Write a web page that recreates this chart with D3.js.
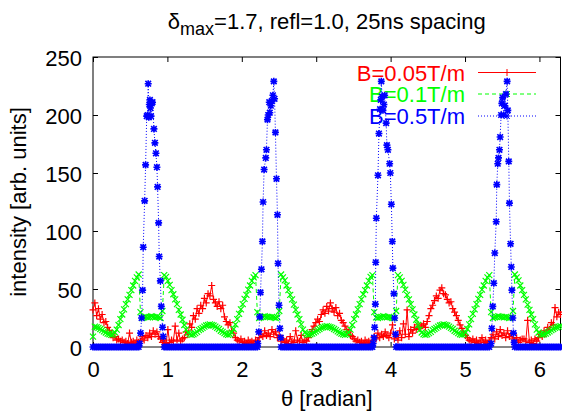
<!DOCTYPE html>
<html><head><meta charset="utf-8">
<script src="https://cdn.jsdelivr.net/npm/d3@7"></script>
<style>
body{margin:0;background:#fff}
svg{display:block}
text{font-family:"Liberation Sans",Arial,Helvetica,sans-serif}
</style>
</head><body>
<svg id="c" width="562" height="413"></svg>
<script>
// ---------- data ----------
const thetaStep = Math.PI / 128;   // sampling step of the angle grid (radian)
const gridCount = 257;             // samples from 0 to 2*pi
const xTicks = [0, 1, 2, 3, 4, 5, 6];
const yTicks = [0, 50, 100, 150, 200, 250];
const seriesNames = ["B=0.05T/m", "B=0.1T/m", "B=0.5T/m"];
const titleMain = "δ", titleSub = "max", titleRest = "=1.7, refl=1.0, 25ns spacing";
const xLabel = "θ [radian]";
const yLabel = "intensity [arb. units]";

const redVals = [
 32,38,27,33,24,28,21,22,17,14,
 12,8,9,6,7,5,6,4,5,3,
 12,4,5,3,6,4,5,9,6,10,
 8,12,9,14,11,13,9,7,4,6,
 3,15,4,6,5,18,6,12,5,7,
 8,13,11,20,17,27,24,33,29,36,
 33,42,38,46,44,53,41,38,35,39,
 33,36,26,22,19,21,14,12,8,6,
 5,7,4,5,3,6,4,5,3,6,
 5,8,11,9,14,10,12,9,15,11,
 13,8,10,5,7,4,6,3,9,5,
 4,14,6,5,10,4,6,5,8,11,
 15,18,21,24,22,28,32,29,35,31,
 38,33,30,34,27,29,23,21,18,15,
 13,10,9,7,5,6,4,5,3,6,
 4,5,3,6,9,7,12,8,11,9,
 13,10,8,12,19,7,10,6,14,8,
 20,11,32,9,15,12,17,15,19,16,
 18,20,17,22,27,33,36,40,44,42,
 49,51,46,45,41,38,39,33,30,27,
 23,19,16,12,10,8,6,5,7,4,
 6,3,5,8,4,6,3,5,8,11,
 7,13,9,15,10,12,8,14,9,11,
 7,5,8,4,6,7,7,5,23,4,
 6,3,7,5,8,11,9,14,12,17,
 15,21,19,34,26,30,28
];

const greenVals = [
 9,17.5,17,16.5,15.5,14.5,13.5,12.5,11.5,11,
 10.5,11,12.5,15,19,24,28,32.5,37,41,
 45,49,53,57,60,62.5,30,25,25.5,26,
 25.5,26,26.5,26,25.5,26,25.5,25,31,62,
 60.5,57,53.5,49,45.5,41,37,32,28,23.5,
 19,15,12.5,11,10.5,11,12,13,14.5,15.5,
 16.5,17.5,18.5,19,19.5,19,18.5,17.5,16.5,15.5,
 14,13,12,11,10.5,11,12.5,15.5,19.5,24,
 28.5,32.5,37,41.5,45,49.5,53,57,60,62,
 30,25,25.5,26,26.5,26,26,25.5,26,25.5,
 25,25.5,31,62.5,60,57.5,53,49,45,41,
 36.5,32,28,24,19.5,15,12.5,11,10.5,11,
 11.5,12.5,13.5,14.5,15.5,16.5,17,17.5,18,17.5,
 17,16.5,15.5,14.5,13.5,12.5,11.5,11,10.5,11,
 12.5,15,19,24,28,32.5,37,41,45.5,49,
 53,57,60.5,62,30,25.5,25,25.5,26,26.5,
 26,25.5,26,25.5,25,25,31,62,60,57,
 53.5,49.5,45,41,37,32.5,28,23.5,19,15,
 12.5,11,10.5,11,12,13,14.5,15.5,16.5,17.5,
 18.5,19,19.5,19,18.5,17.5,16.5,15.5,14,13,
 12,11,10.5,11,12.5,15.5,19.5,24,28.5,32.5,
 37,41.5,45,49.5,53,57,60,62,30,25,
 25.5,26,26.5,26,26,25.5,26,25.5,25,25.5,
 31,62.5,60,57.5,53,49,45,41,36.5,32,
 28,24,19.5,15,12.5,11,10.5,11,11.5,12.5,
 13.5,14.5,15.5,16.5,17,17.5,18
];

const n = null; // grid samples replaced by the detailed peak samples below
const blueGridVals = [
 0,0,0,0,0,0,0,0,0,0,
 0,0,0,0,0,0,0,0,0,0,
 0,0,0,0,0,0,n,n,n,n,
 n,n,n,n,n,n,n,n,n,0,
 0,0,0,0,0,0,0,0,0,0,
 0,0,0,0,0,0,0,0,0,0,
 0,0,0,0,0,0,0,0,0,0,
 0,0,0,0,0,0,0,0,0,0,
 0,0,0,0,0,0,0,0,0,0,
 0,n,n,n,n,n,n,n,n,n,
 n,n,n,0,0,0,0,0,0,0,
 0,0,0,0,0,0,0,0,0,0,
 0,0,0,0,0,0,0,0,0,0,
 0,0,0,0,0,0,0,0,0,0,
 0,0,0,0,0,0,0,0,0,0,
 0,0,0,0,n,n,n,n,n,n,
 n,n,n,n,n,n,0,0,0,0,
 0,0,0,0,0,0,0,0,0,0,
 0,0,0,0,0,0,0,0,0,0,
 0,0,0,0,0,0,0,0,0,0,
 0,0,0,0,0,0,0,0,0,0,
 0,0,0,0,0,0,0,0,n,n,
 n,n,n,n,n,n,n,n,n,n,
 n,0,0,0,0,0,0,0,0,0,
 0,0,0,0,0,0,0,0,0,0,
 0,0,0,0,0,0,0
];

const bluePeakTheta = [
 0.626,0.640,0.653,0.667,0.675,0.694,0.707,0.722,0.735,0.742,0.750,0.757,0.765,0.772,0.780,0.790,0.800,0.819,0.832,0.846,0.859,0.868,0.882,0.890,0.905,0.918,0.935,0.944,
 2.215,2.228,2.242,2.251,2.264,2.277,2.286,2.300,2.322,2.331,2.345,2.355,2.369,2.376,2.390,2.405,2.418,2.430,2.440,2.452,2.466,2.479,2.487,2.500,2.512,2.523,
 3.765,3.778,3.785,3.795,3.800,3.808,3.830,3.843,3.858,3.868,3.875,3.885,3.897,3.910,3.920,3.940,3.950,3.964,3.987,3.996,4.010,4.023,4.030,4.044,4.054,4.067,
 5.350,5.360,5.373,5.387,5.400,5.419,5.427,5.440,5.450,5.463,5.472,5.485,5.495,5.505,5.520,5.535,5.550,5.566,5.575,5.588,5.597,5.612,5.622,5.630,5.642,5.651,5.660
];
const bluePeakVals = [
 3,12,25,49,86,126,157,199,200,227,198,209,213,206,199,210,211,188,176,167,155,138,107,78,57,35,17,9,
 3,13,26,47,67,91,125,153,163,170,196,200,211,202,208,212,217,229,214,185,145,114,72,36,16,8,
 3,8,17,37,73,111,148,184,205,213,229,216,204,209,217,193,174,170,158,150,123,91,68,46,25,11,
 3,16,35,55,81,108,140,158,163,170,181,200,210,215,200,208,218,229,204,160,124,89,69,49,25,12,4
];

const seriesColors = ["#ff0000", "#00ff00", "#0000ff"];
const seriesDash = [null, "4,3", "1,2"];

// ---------- build point lists ----------
const theta = d3.range(gridCount).map(i => i * thetaStep);
const redPts = theta.map((t, i) => [t, redVals[i]]);
const greenPts = theta.map((t, i) => [t, greenVals[i]]);
const bluePts = theta.map((t, i) => [t, blueGridVals[i]]).filter(d => d[1] !== null)
  .concat(bluePeakTheta.map((t, i) => [t, bluePeakVals[i]]))
  .sort((a, b) => a[0] - b[0]);
const allSeries = [redPts, greenPts, bluePts];

// ---------- layout ----------
const L = 93, R = 560.5, T = 57, B = 347;
const svg = d3.select("#c");
const x = d3.scaleLinear().domain([0, 2 * Math.PI]).range([L, R]);
const y = d3.scaleLinear().domain([0, 250]).range([B, T]);
const FS = 22;

// axes (ticks inward, mirrored)
const gx = svg.append("g").attr("transform", `translate(0,${B})`)
  .call(d3.axisBottom(x).tickValues(xTicks).tickFormat(d3.format("d")).tickSizeInner(-5).tickSizeOuter(0));
gx.selectAll("text").attr("dy", null).attr("y", 30);
const gxt = svg.append("g").attr("transform", `translate(0,${T})`)
  .call(d3.axisTop(x).tickValues(xTicks).tickFormat("").tickSizeInner(-5).tickSizeOuter(0));
const gy = svg.append("g").attr("transform", `translate(${L},0)`)
  .call(d3.axisLeft(y).tickValues(yTicks).tickSizeInner(-5).tickSizeOuter(0).tickPadding(11));
gy.selectAll("text").attr("dy", "8");
const gyr = svg.append("g").attr("transform", `translate(${R},0)`)
  .call(d3.axisRight(y).tickValues(yTicks).tickFormat("").tickSizeInner(-5).tickSizeOuter(0));
[gx, gxt, gy, gyr].forEach(g => {
  g.select(".domain").remove();
  g.selectAll("line").attr("stroke", "#000");
  g.selectAll("text").attr("font-size", FS).attr("fill", "#000")
    .attr("font-family", '"Liberation Sans",Arial,sans-serif');
});

// border
svg.append("rect").attr("x", L).attr("y", T).attr("width", R - L).attr("height", B - T)
  .attr("fill", "none").attr("stroke", "#000").attr("stroke-width", 1);
// zero axis (grey)
svg.append("line").attr("x1", L).attr("x2", R).attr("y1", y(0)).attr("y2", y(0))
  .attr("stroke", "#8c8c8c").attr("stroke-width", 1.2);

// title
const title = svg.append("text").attr("x", (L + R) / 2).attr("y", 29)
  .attr("text-anchor", "middle").attr("font-size", FS).attr("fill", "#000");
title.append("tspan").text(titleMain);
title.append("tspan").attr("font-size", 18).attr("dy", 6).text(titleSub);
title.append("tspan").attr("dy", -6).text(titleRest);

// axis labels
svg.append("text").attr("x", (L + R) / 2).attr("y", 406).attr("text-anchor", "middle")
  .attr("font-size", FS).attr("fill", "#000").text(xLabel);
svg.append("text").attr("transform", `translate(26,${(T + B) / 2}) rotate(-90)`)
  .attr("text-anchor", "middle").attr("font-size", FS).attr("fill", "#000").text(yLabel);

// marker shapes
const markerPath = [
  "M-3.5,0H3.5M0,-3.5V3.5",
  "M-3,-3L3,3M-3,3L3,-3",
  "M-3.5,0H3.5M0,-3.5V3.5M-2.8,-2.8L2.8,2.8M-2.8,2.8L2.8,-2.8"
];
const markerWidth = [1.2, 1.2, 1.6];

// legend
const legendRows = [72.5, 94, 116];
seriesNames.forEach((name, i) => {
  const g = svg.append("g");
  g.append("text").attr("x", 465).attr("y", legendRows[i] + 8).attr("text-anchor", "end")
    .attr("font-size", FS).attr("fill", seriesColors[i]).text(name);
  g.append("line").attr("x1", 478).attr("x2", 536).attr("y1", legendRows[i]).attr("y2", legendRows[i])
    .attr("stroke", seriesColors[i]).attr("stroke-width", 1)
    .attr("stroke-dasharray", seriesDash[i]);
  g.append("path").attr("d", markerPath[i]).attr("transform", `translate(507,${legendRows[i]})`)
    .attr("stroke", seriesColors[i]).attr("fill", "none").attr("stroke-width", 1);
});

// series
const line = d3.line().x(d => x(d[0])).y(d => y(d[1]));
allSeries.forEach((pts, i) => {
  const g = svg.append("g");
  g.append("path").attr("d", line(pts)).attr("fill", "none")
    .attr("stroke", seriesColors[i]).attr("stroke-width", 1)
    .attr("stroke-dasharray", seriesDash[i]);
  g.selectAll("path.m").data(pts).enter().append("path").attr("class", "m")
    .attr("d", markerPath[i])
    .attr("transform", d => `translate(${x(d[0])},${y(d[1])})`)
    .attr("stroke", seriesColors[i]).attr("fill", "none").attr("stroke-width", markerWidth[i]);
});
</script>
</body></html>
